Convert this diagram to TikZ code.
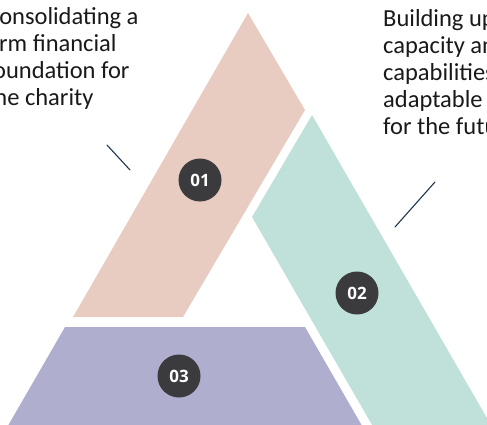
\documentclass[tikz,border=0pt]{standalone}
\usepackage{fontspec}
\setmainfont{Carlito}
\newfontfamily\numfont{Open Sans}
\definecolor{rosepart}{HTML}{E8CCC1}
\definecolor{mintpart}{HTML}{BFE1D9}
\definecolor{lilacpart}{HTML}{B0AECF}
\definecolor{badge}{HTML}{3B3A3D}
\definecolor{leadline}{HTML}{1F3650}
\begin{document}
\begin{tikzpicture}[x=1pt,y=-1pt,line join=round,line cap=round,
	blurb/.style={align=left,inner sep=0pt,text=black!90,anchor=base west,font=\fontsize{24.5}{27}\selectfont},
	badgenum/.style={circle,fill=badge,minimum size=43pt,inner sep=0pt,text=white,font=\numfont\bfseries\fontsize{17}{17}\selectfont}]
	\useasboundingbox (0,0) rectangle (487,425);
	\clip (0,0) rectangle (487,425);
	\def\gap{1.732}
	\fill[rosepart] (248,13)--(305,110)--(183,317)--(73,317)--cycle;
	\fill[mintpart] (312,115)--(252,217)--({252+223/\gap},440)--({312+325/\gap},440)--cycle;
	\fill[lilacpart] (65,327)--(305,327)--({305+113/\gap},440)--({65-113/\gap},440)--cycle;
	\foreach\n/\x/\y in {01/200/180,02/357/293,03/179/376}
	{\node[badgenum] (b\n) at (\x,\y) {\n};}
	\node[blurb] (left) at (-14,106)
	{Consolidating a\\firm financial\\foundation for\\the charity};
	\node[blurb] (right) at (383,135)
	{Building up\\capacity and\\capabilities\\adaptable\\for the future};
	\path (107,145) coordinate (l1) (130,170) coordinate (l2)
	(435,182) coordinate (r1) (395,227) coordinate (r2);
	\draw[leadline,line width=1.1pt] (l1)--(l2) (r1)--(r2);
\end{tikzpicture}
\end{document}
